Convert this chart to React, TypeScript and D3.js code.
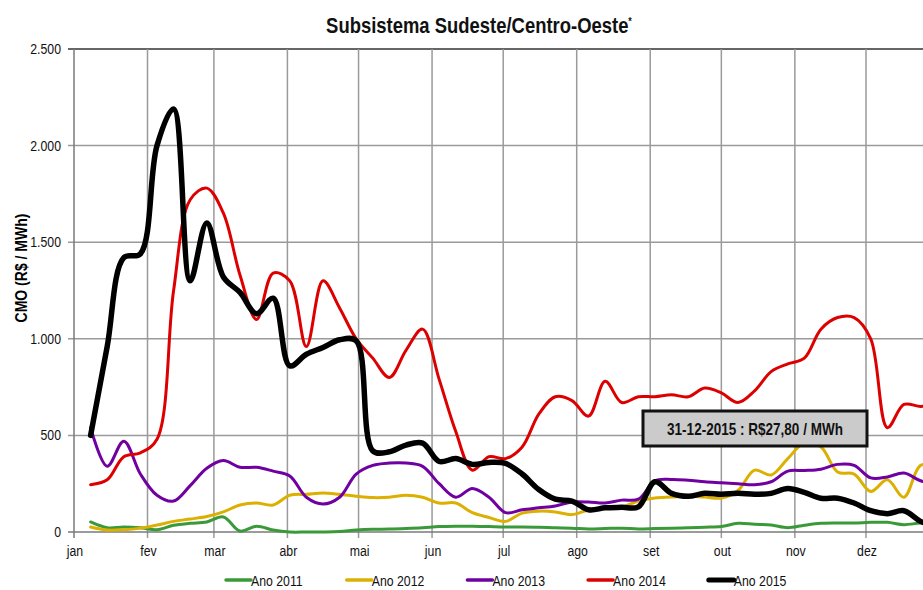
import React, { useEffect, useRef } from "react";
import * as d3 from "d3";

// weekly CMO values (R$/MWh), first week ending 8 jan
const ano2011 = [52, 22, 26, 22, 12, 35, 45, 52, 78, 5, 30, 10, 0, 0, 0, 2, 10, 14, 15, 18, 22, 28, 30, 30, 28, 26, 26, 25, 22, 20, 16, 18, 20, 16, 18, 20, 22, 25, 28, 45, 40, 36, 22, 35, 45, 47, 47, 50, 50, 38, 46, 42];
const ano2012 = [26, 10, 12, 20, 36, 55, 67, 80, 104, 140, 150, 140, 190, 195, 202, 195, 185, 178, 180, 190, 180, 150, 150, 100, 75, 55, 98, 108, 104, 90, 114, 124, 130, 160, 176, 181, 186, 181, 176, 215, 320, 295, 380, 460, 440, 311, 300, 210, 270, 180, 345, 340];
const ano2013 = [540, 340, 470, 300, 190, 160, 240, 330, 370, 335, 335, 315, 290, 180, 145, 180, 300, 345, 357, 357, 340, 250, 180, 225, 180, 100, 115, 125, 135, 155, 155, 150, 165, 170, 265, 272, 268, 260, 255, 250, 245, 260, 315, 318, 325, 350, 345, 280, 285, 305, 265, 250];
const ano2014 = [245, 270, 390, 410, 480, 1250, 1720, 1780, 1650, 1330, 1100, 1340, 1300, 960, 1300, 1160, 1000, 900, 800, 940, 1050, 790, 520, 320, 390, 380, 440, 610, 700, 680, 600, 780, 670, 700, 700, 710, 700, 745, 720, 670, 730, 830, 870, 900, 1050, 1110, 1110, 1000, 540, 660, 650, 660];
const ano2015 = [500, 960, 1420, 1440, 2000, 2190, 1300, 1600, 1320, 1240, 1130, 1210, 860, 920, 955, 995, 990, 420, 415, 450, 460, 365, 380, 350, 360, 355, 300, 220, 170, 160, 115, 125, 128, 130, 260, 200, 185, 200, 195, 200, 195, 200, 225, 205, 175, 175, 150, 110, 95, 110, 55, 28];

const seriesNames = ["Ano 2011", "Ano 2012", "Ano 2013", "Ano 2014", "Ano 2015"];
const seriesValues = [ano2011, ano2012, ano2013, ano2014, ano2015];
const seriesColors = ["#3a9a3a", "#dcb000", "#7000a0", "#dd0000", "#000000"];
const seriesWidths = [3, 3, 3, 3, 5.5];

const monthLabels = ["jan", "fev", "mar", "abr", "mai", "jun", "jul", "ago", "set", "out", "nov", "dez"];
const yTicks = [0, 500, 1000, 1500, 2000, 2500];
const annotation = "31-12-2015 : R$27,80 / MWh";

const FONT = "'Liberation Sans', Arial, sans-serif";
const NARROW = 0.82; // fake Arial Narrow

type Sel = d3.Selection<any, any, any, any>;

// text squeezed horizontally, anchored at (x, y)
function narrowText(parent: Sel, x: number, y: number, txt: string, size: number, anchor = "start", bold = false) {
    return parent.append("text")
        .attr("transform", `translate(${x},${y}) scale(${NARROW},1)`)
        .attr("text-anchor", anchor)
        .style("font-family", FONT)
        .style("font-size", `${size}px`)
        .style("font-weight", bold ? "bold" : "normal")
        .attr("fill", "#111")
        .text(txt);
}

export default function App() {
    const svgRef = useRef<SVGSVGElement>(null);
    const width = 923;
    const height = 590;

    useEffect(() => {
        const svg = d3.select(svgRef.current);
        svg.selectAll("*").remove();

        const left = 74, top = 49, bottom = 532;

        const x = d3.scaleTime()
            .domain([new Date(2015, 0, 1), new Date(2016, 0, 1)])
            .range([left, 939.5]);
        const y = d3.scaleLinear().domain([0, 2500]).range([bottom, top]);

        const weekDate = (i: number) => new Date(2015, 0, 8 + 7 * i);
        const months = d3.range(12).map(m => new Date(2015, m, 1));

        // --- grid ---
        svg.append("g")
            .selectAll("line")
            .data(yTicks.filter(d => d > 0))
            .join("line")
            .attr("x1", left - 6)
            .attr("x2", width)
            .attr("y1", d => y(d))
            .attr("y2", d => y(d))
            .attr("stroke", d => (d === 2500 ? "#333" : "#9a9a9a"))
            .attr("stroke-width", 1.5);

        svg.append("g")
            .selectAll("line")
            .data(months.slice(1))
            .join("line")
            .attr("x1", d => x(d))
            .attr("x2", d => x(d))
            .attr("y1", top)
            .attr("y2", bottom + 6)
            .attr("stroke", "#9a9a9a")
            .attr("stroke-width", 1.5);

        // axes lines
        svg.append("line")
            .attr("x1", left).attr("x2", left)
            .attr("y1", top).attr("y2", bottom + 6)
            .attr("stroke", "#7a7a7a").attr("stroke-width", 1.5);
        svg.append("line")
            .attr("x1", left - 6).attr("x2", width)
            .attr("y1", bottom).attr("y2", bottom)
            .attr("stroke", "#7a7a7a").attr("stroke-width", 1.5);

        // --- y tick labels ---
        const fmt = (d: number) => d3.format(",")(d).replace(",", ".");
        yTicks.forEach(d => narrowText(svg, left - 13, y(d) + 5, fmt(d), 15, "end"));

        // --- x tick labels ---
        months.forEach((d, i) => narrowText(svg, x(d) + 1, bottom + 24, monthLabels[i], 15, "middle"));

        // --- y axis title ---
        svg.append("text")
            .attr("transform", `translate(27,268) rotate(-90) scale(0.85,1)`)
            .attr("text-anchor", "middle")
            .style("font-family", FONT)
            .style("font-size", "16.5px")
            .style("font-weight", "bold")
            .text("CMO (R$ / MWh)");

        // --- title ---
        const title = narrowText(svg, 479, 33, "", 22.5, "middle", true);
        title.append("tspan").text("Subsistema Sudeste/Centro-Oeste");
        title.append("tspan")
            .attr("dy", -8)
            .style("font-size", "11px")
            .text("*");

        // --- lines ---
        const line = d3.line<number>()
            .x((d, i) => x(weekDate(i)))
            .y(d => y(d))
            .curve(d3.curveCatmullRom.alpha(0.5));

        svg.append("g")
            .selectAll("path")
            .data(seriesValues)
            .join("path")
            .attr("d", d => line(d))
            .attr("fill", "none")
            .attr("stroke", (d, i) => seriesColors[i])
            .attr("stroke-width", (d, i) => seriesWidths[i])
            .attr("stroke-linejoin", "round")
            .attr("stroke-linecap", "round");

        // --- annotation box ---
        const box = svg.append("g").attr("transform", "translate(643,411)");
        box.append("rect")
            .attr("width", 224)
            .attr("height", 35)
            .attr("fill", "#cbcbcb")
            .attr("stroke", "#111")
            .attr("stroke-width", 3);
        narrowText(box, 112, 24, annotation, 16.5, "middle", true);

        // --- legend ---
        const legend = svg.append("g")
            .selectAll("g")
            .data(seriesNames)
            .join("g")
            .attr("transform", (d, i) => `translate(${226 + i * 120.7},580)`);
        legend.append("line")
            .attr("x1", 0).attr("x2", 25)
            .attr("stroke", (d, i) => seriesColors[i])
            .attr("stroke-width", (d, i) => (i === 4 ? 5 : 3.5))
            .attr("stroke-linecap", "round");
        legend.each(function (d) {
            narrowText(d3.select(this), 25, 5.5, d as string, 15);
        });
    }, []);

    return (
        <svg
            ref={svgRef}
            width={width}
            height={height}
            style={{ position: "absolute", left: 0, top: 0, background: "#fff" }}
        />
    );
}
